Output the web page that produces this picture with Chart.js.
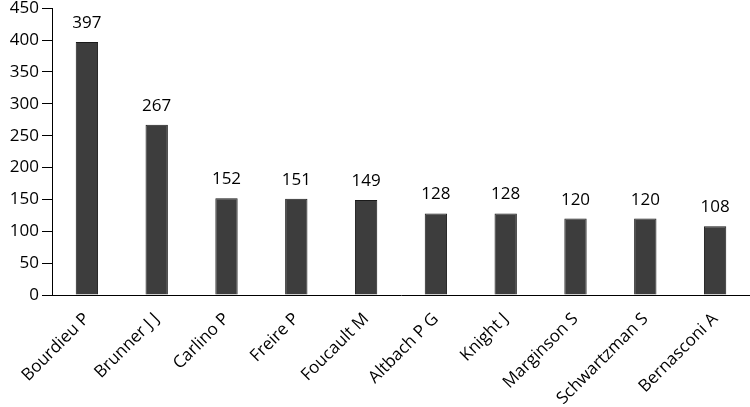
<!DOCTYPE html>
<html><head><meta charset="utf-8">
<script src="https://cdn.jsdelivr.net/npm/chart.js@4"></script>
<style>html,body{margin:0;padding:0;background:#fff;overflow:hidden}#w{width:750px;height:412px;margin-top:-5px}</style>
</head><body><div id="w"><canvas id="c"></canvas></div>
<script>
const categories = ["Bourdieu P","Brunner J J","Carlino P","Freire P","Foucault M","Altbach P G","Knight J","Marginson S","Schwartzman S","Bernasconi A"];
const values = [397,267,152,151,149,128,128,120,120,108];
const yTicks = [0,50,100,150,200,250,300,350,400,450];
const FONT = "'Open Sans', sans-serif";

const labelPlugin = {
  id:'vals',
  afterDatasetsDraw(chart){
    const ctx = chart.ctx, meta = chart.getDatasetMeta(0), y = chart.scales.y;
    ctx.save();
    ctx.font = "17px " + FONT;
    ctx.fillStyle = "#000";
    ctx.textAlign = "center";
    ctx.textBaseline = "alphabetic";
    meta.data.forEach((bar,i)=>{
      ctx.fillText(String(values[i]), bar.x, y.getPixelForValue(values[i]) - 14);
    });
    ctx.restore();
  }
};

new Chart(document.getElementById('c'), {
  type:'bar',
  data:{labels:categories, datasets:[{data:values, backgroundColor:'#3d3d3d', borderColor:'#1a1a1a', borderWidth:1, categoryPercentage:1, barPercentage:0.32}]},
  options:{
    responsive:true, maintainAspectRatio:false, animation:false,
    layout:{padding:{top:0,right:0,left:0,bottom:0}},
    plugins:{legend:{display:false}, tooltip:{enabled:false}},
    scales:{
      x:{
        grid:{display:true, drawOnChartArea:false, drawTicks:false, color:'#000'},
        border:{display:true,color:'#000',width:1},
        ticks:{minRotation:45,maxRotation:45,color:'#000',font:{family:FONT,size:17},padding:14, autoSkip:false},
        afterFit(s){ s.height = 112; }
      },
      y:{
        min:0,max:450,
        afterBuildTicks(s){ s.ticks = yTicks.map(v=>({value:v})); },
        grid:{display:true, drawOnChartArea:false, drawTicks:true, tickLength:10, color:'#000'},
        border:{display:true,color:'#000',width:1},
        ticks:{color:'#000',font:{family:FONT,size:17},padding:3},
        afterFit(s){ s.width = 52; }
      }
    }
  },
  plugins:[labelPlugin]
});
</script></body></html>
